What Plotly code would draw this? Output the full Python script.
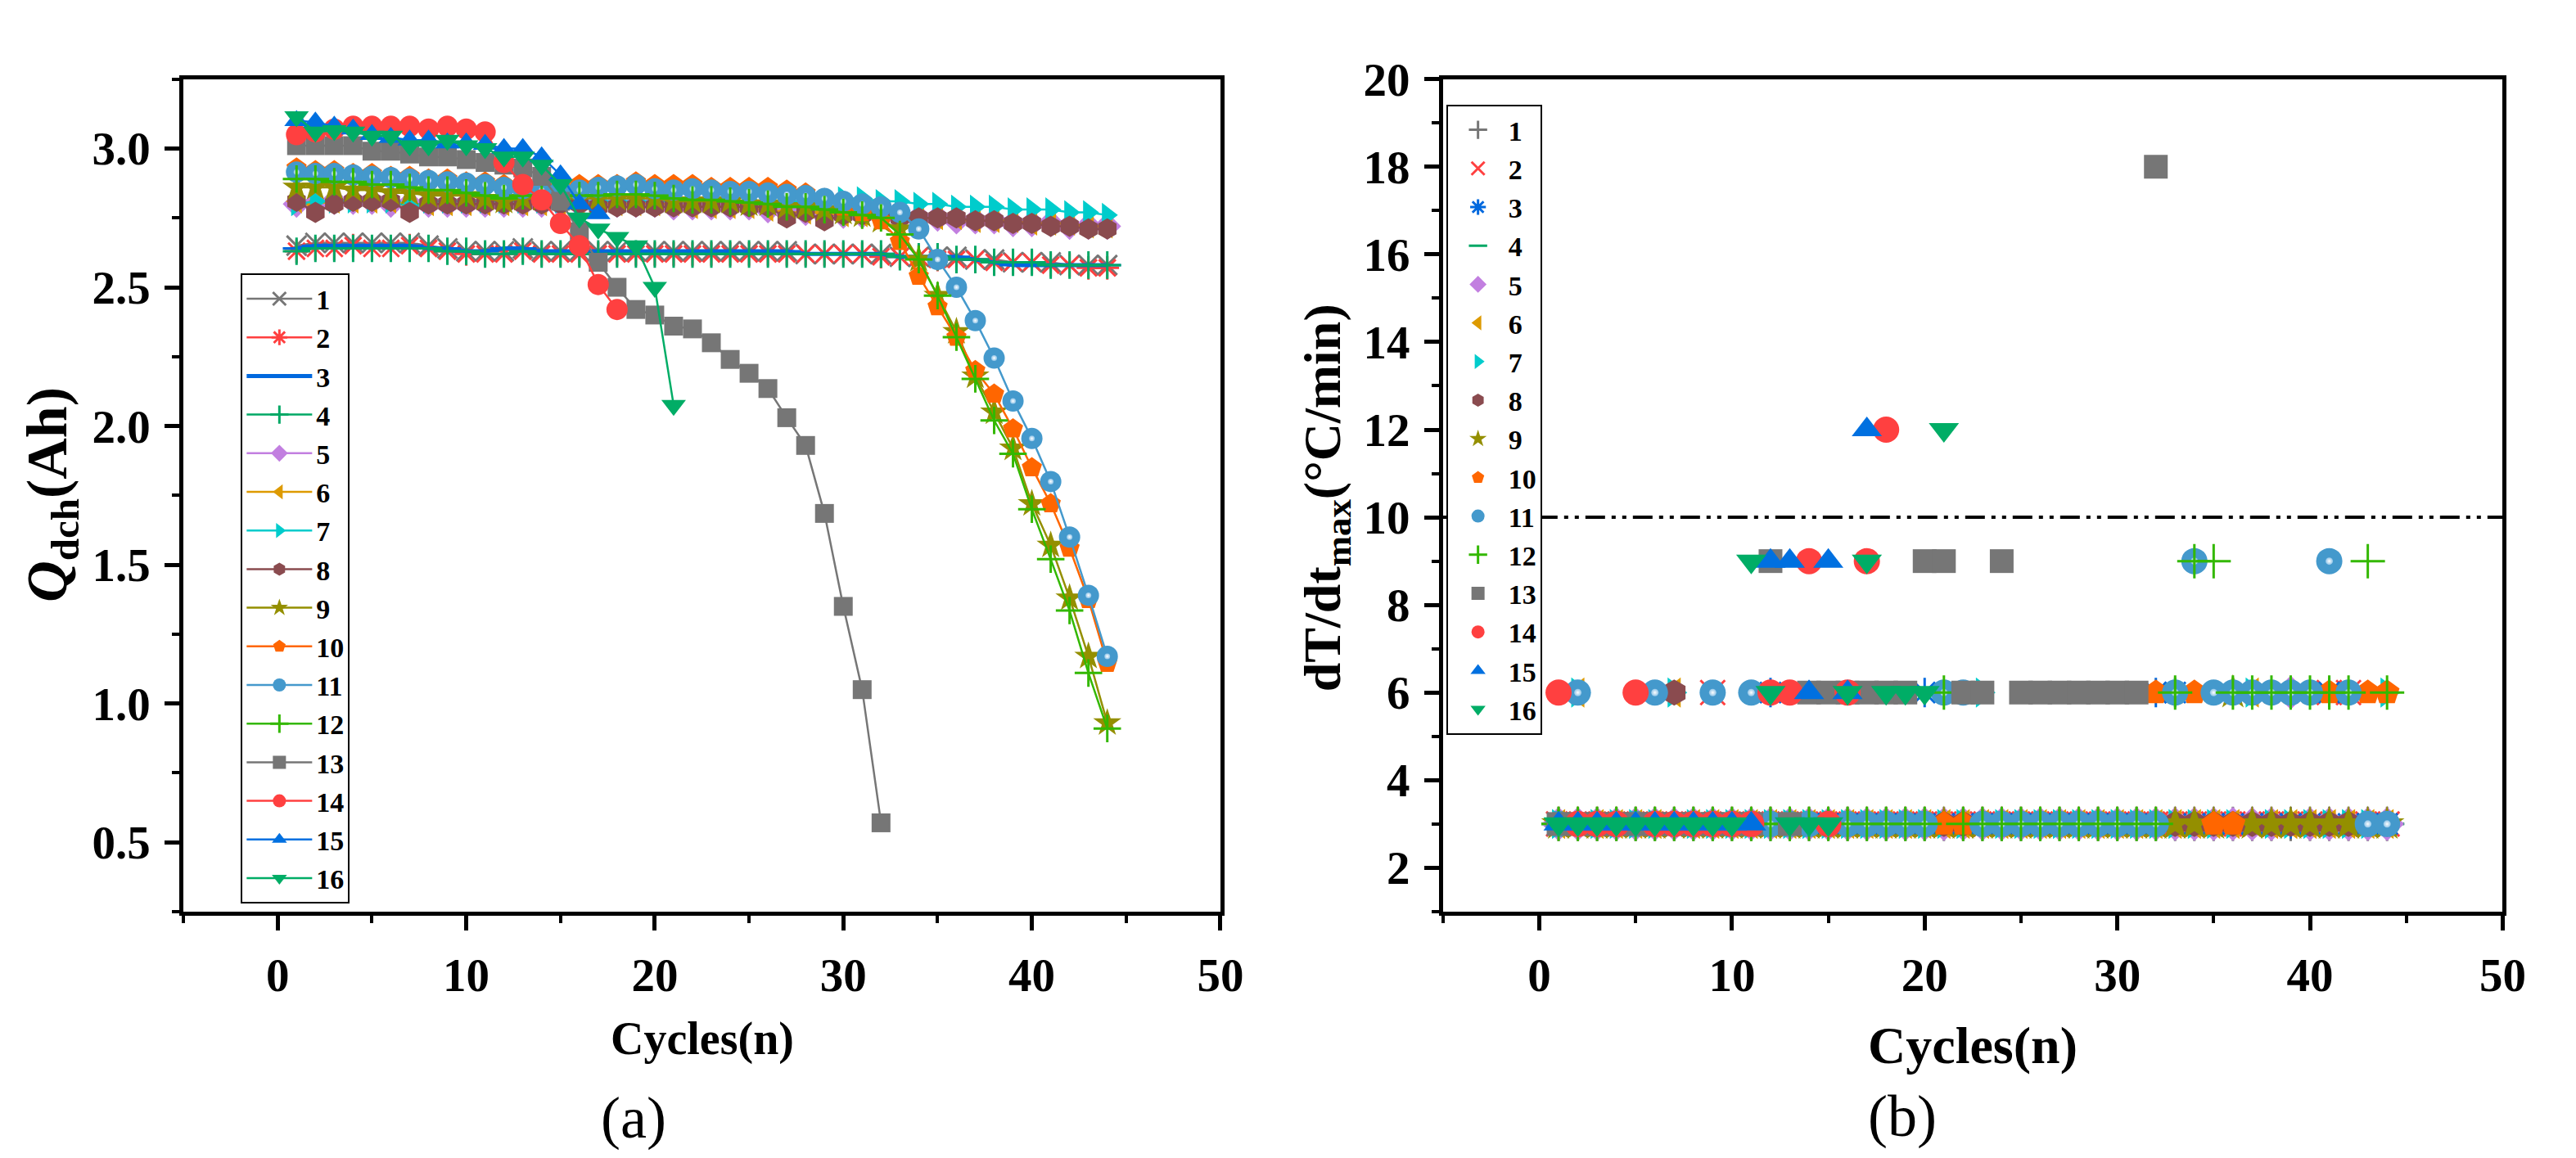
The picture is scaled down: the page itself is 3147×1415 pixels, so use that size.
import plotly.graph_objects as go

# ---------------- data : panel (a)  Q_dch (Ah) per cycle ----------------
q1 = [2.65, 2.66, 2.66, 2.66, 2.66, 2.66, 2.66, 2.65, 2.64, 2.63, 2.63, 2.63, 2.64, 2.63, 2.63, 2.63, 2.63, 2.63, 2.63, 2.63, 2.63, 2.63,
      2.63, 2.63, 2.63, 2.63, 2.63, 2.62, 2.62, 2.62, 2.62, 2.62, 2.61, 2.61, 2.61, 2.61, 2.60, 2.60, 2.59, 2.59, 2.59, 2.58, 2.58, 2.58]
q2 = [2.63, 2.64, 2.64, 2.65, 2.64, 2.64, 2.65, 2.64, 2.63, 2.62, 2.62, 2.62, 2.63, 2.62, 2.62, 2.62, 2.62, 2.62, 2.62, 2.62, 2.62, 2.62,
      2.62, 2.62, 2.62, 2.62, 2.62, 2.62, 2.62, 2.62, 2.62, 2.61, 2.61, 2.61, 2.60, 2.60, 2.60, 2.59, 2.59, 2.59, 2.58, 2.58, 2.57, 2.57]
q3 = [2.64, 2.65, 2.65, 2.65, 2.65, 2.65, 2.65, 2.64, 2.64, 2.63, 2.63, 2.64, 2.64, 2.63, 2.63, 2.63, 2.63, 2.63, 2.63, 2.63, 2.63, 2.63,
      2.63, 2.63, 2.63, 2.63, 2.63, 2.62, 2.62, 2.62, 2.62, 2.62, 2.61, 2.61, 2.61, 2.61, 2.60, 2.59, 2.58, 2.58, 2.58, 2.58, 2.58, 2.58]
q4 = [2.63, 2.64, 2.64, 2.64, 2.64, 2.64, 2.64, 2.64, 2.63, 2.63, 2.62, 2.62, 2.63, 2.62, 2.62, 2.62, 2.62, 2.62, 2.62, 2.62, 2.62, 2.62,
      2.62, 2.62, 2.62, 2.62, 2.62, 2.62, 2.62, 2.62, 2.62, 2.62, 2.61, 2.61, 2.61, 2.60, 2.60, 2.59, 2.59, 2.59, 2.58, 2.58, 2.58, 2.58]
q5 = [2.80, 2.80, 2.81, 2.81, 2.81, 2.80, 2.80, 2.80, 2.80, 2.80, 2.80, 2.80, 2.80, 2.80, 2.80, 2.80, 2.80, 2.80, 2.80, 2.80, 2.79, 2.79,
      2.79, 2.79, 2.79, 2.78, 2.77, 2.77, 2.76, 2.76, 2.76, 2.76, 2.75, 2.75, 2.75, 2.74, 2.74, 2.74, 2.73, 2.73, 2.73, 2.72, 2.72, 2.72]
q6 = [2.81, 2.80, 2.81, 2.81, 2.81, 2.81, 2.80, 2.80, 2.80, 2.80, 2.80, 2.80, 2.80, 2.80, 2.80, 2.80, 2.80, 2.80, 2.80, 2.80, 2.80, 2.79,
      2.79, 2.79, 2.79, 2.78, 2.77, 2.77, 2.77, 2.76, 2.76, 2.76, 2.76, 2.75, 2.75, 2.75, 2.74, 2.74, 2.74, 2.73, 2.73, 2.73, 2.72, 2.72]
q7 = [2.80, 2.81, 2.81, 2.81, 2.81, 2.81, 2.79, 2.81, 2.81, 2.81, 2.81, 2.81, 2.81, 2.81, 2.81, 2.81, 2.81, 2.81, 2.81, 2.81, 2.81, 2.81,
      2.81, 2.81, 2.81, 2.81, 2.81, 2.81, 2.81, 2.82, 2.82, 2.81, 2.81, 2.80, 2.80, 2.79, 2.79, 2.79, 2.78, 2.78, 2.78, 2.77, 2.77, 2.76]
q8 = [2.81, 2.77, 2.80, 2.81, 2.81, 2.81, 2.77, 2.80, 2.80, 2.80, 2.80, 2.80, 2.80, 2.80, 2.80, 2.80, 2.79, 2.79, 2.79, 2.79, 2.79, 2.79,
      2.79, 2.79, 2.79, 2.79, 2.75, 2.77, 2.74, 2.76, 2.76, 2.76, 2.75, 2.75, 2.75, 2.75, 2.74, 2.74, 2.73, 2.73, 2.72, 2.72, 2.71, 2.71]
q9 = [2.86, 2.86, 2.86, 2.85, 2.85, 2.84, 2.84, 2.83, 2.83, 2.83, 2.82, 2.81, 2.82, 2.82, 2.82, 2.82, 2.82, 2.82, 2.82, 2.82, 2.81, 2.81,
      2.81, 2.81, 2.80, 2.80, 2.79, 2.79, 2.78, 2.77, 2.76, 2.74, 2.71, 2.60, 2.47, 2.34, 2.18, 2.05, 1.92, 1.72, 1.57, 1.38, 1.17, 0.93]
q10 = [2.93, 2.92, 2.92, 2.91, 2.91, 2.90, 2.90, 2.89, 2.89, 2.88, 2.88, 2.87, 2.86, 2.86, 2.86, 2.87, 2.87, 2.87, 2.88, 2.87, 2.87, 2.87,
       2.86, 2.86, 2.86, 2.86, 2.85, 2.84, 2.82, 2.79, 2.77, 2.74, 2.665, 2.54, 2.43, 2.32, 2.20, 2.115, 1.99, 1.85, 1.72, 1.56, 1.375, 1.145]
q11 = [2.915, 2.91, 2.91, 2.905, 2.90, 2.895, 2.89, 2.885, 2.88, 2.875, 2.87, 2.86, 2.855, 2.85, 2.85, 2.85, 2.86, 2.865, 2.87, 2.855, 2.85,
       2.855, 2.85, 2.845, 2.845, 2.84, 2.835, 2.83, 2.82, 2.81, 2.80, 2.79, 2.77, 2.71, 2.60, 2.50, 2.38, 2.245, 2.09, 1.955, 1.80, 1.60, 1.39, 1.17]
q12 = [2.89, 2.89, 2.88, 2.88, 2.87, 2.87, 2.86, 2.85, 2.85, 2.84, 2.83, 2.82, 2.83, 2.83, 2.83, 2.83, 2.83, 2.835, 2.835, 2.83, 2.82, 2.815,
       2.815, 2.81, 2.805, 2.80, 2.79, 2.79, 2.78, 2.77, 2.76, 2.75, 2.69, 2.60, 2.47, 2.32, 2.17, 2.02, 1.90, 1.70, 1.52, 1.335, 1.11, 0.91]
q13 = [3.01, 3.01, 3.01, 3.01, 2.99, 2.99, 2.98, 2.97, 2.97, 2.96, 2.95, 2.94, 2.93, 2.90, 2.81, 2.70, 2.59, 2.50, 2.42, 2.40, 2.36, 2.35,
       2.30, 2.24, 2.19, 2.135, 2.03, 1.93, 1.685, 1.35, 1.05, 0.57]
q14 = [3.05, 3.06, 3.07, 3.08, 3.08, 3.08, 3.08, 3.07, 3.08, 3.07, 3.06, 2.95, 2.87, 2.815, 2.73, 2.65, 2.51, 2.42]
q15 = [3.10, 3.095, 3.08, 3.07, 3.05, 3.04, 3.03, 3.03, 3.02, 3.02, 3.015, 3.00, 3.00, 2.97, 2.905, 2.80, 2.765]
q16 = [3.115, 3.06, 3.065, 3.06, 3.045, 3.045, 3.01, 3.01, 3.03, 3.01, 3.00, 2.97, 2.97, 2.94, 2.87, 2.75, 2.71, 2.68, 2.65, 2.50, 2.075]

# ---------------- data : panel (b)  dT/dt max (degC/min) per cycle ----------------
b1 = [3, 3, 3, 3, 3, 3, 3, 3, 3, 3, 3, 3, 3, 3, 3, 3, 3, 3, 3, 3, 3, 3, 3, 3, 3, 3, 3, 3, 3, 3, 3, 3, 3, 3, 3, 3, 3, 3, 3, 3, 3, 3, 3, 3]
b2 = [3, 3, 3, 3, 3, 3, 3, 3, 6, 3, 3, 3, 3, 3, 3, 3, 3, 3, 3, 3, 3, 3, 3, 3, 3, 3, 3, 3, 3, 3, 3, 3, 3, 3, 3, 3, 3, 3, 3, 3, 6, 6, 3, 3]
b3 = [3, 3, 3, 3, 3, 3, 3, 3, 3, 3, 3, 6, 3, 3, 3, 3, 3, 3, 3, 6, 3, 3, 3, 3, 3, 3, 3, 3, 3, 3, 3, 6, 6, 3, 3, 3, 3, 3, 3, 3, 6, 3, 3, 3]
b4 = [3, 3, 3, 3, 3, 3, 3, 3, 3, 3, 3, 3, 3, 3, 3, 3, 3, 3, 3, 3, 3, 3, 3, 3, 3, 3, 3, 3, 3, 3, 3, 3, 3, 3, 3, 3, 3, 3, 3, 3, 3, 3, 3, 3]
b5 = [3, 3, 3, 3, 3, 3, 3, 3, 3, 3, 3, 3, 3, 3, 3, 3, 3, 3, 3, 3, 3, 3, 3, 3, 3, 3, 3, 3, 3, 3, 3, 3, 3, 3, 3, 3, 3, 3, 6, 3, 3, 3, 3, 3]
b6 = [3, 6, 3, 3, 3, 3, 6, 3, 3, 3, 3, 3, 3, 3, 3, 3, 3, 3, 3, 3, 3, 3, 3, 3, 3, 3, 3, 3, 3, 3, 3, 3, 3, 3, 3, 3, 6, 3, 3, 3, 3, 3, 3, 3]
b7 = [3, 6, 3, 3, 3, 3, 6, 3, 3, 3, 3, 3, 3, 3, 3, 3, 3, 3, 3, 3, 3, 3, 6, 3, 3, 3, 3, 3, 3, 3, 3, 3, 3, 3, 3, 3, 6, 3, 3, 3, 3, 3, 3, 6]
b8 = [3, 3, 3, 3, 3, 3, 6, 3, 3, 3, 3, 3, 3, 3, 3, 3, 3, 3, 3, 3, 3, 3, 3, 3, 3, 3, 3, 3, 3, 3, 3, 3, 3, 3, 3, 3, 3, 3, 3, 3, 3, 3, 3, 3]
b9 = [3, 3, 3, 3, 3, 3, 3, 3, 3, 3, 3, 3, 3, 3, 3, 3, 3, 3, 3, 3, 3, 3, 3, 3, 3, 3, 3, 3, 3, 3, 3, 3, 3, 3, 3, 6, 3, 3, 3, 3, 3, 3, 3, 3]
b10 = [3, 3, 3, 3, 3, 3, 3, 3, 3, 3, 3, 3, 3, 3, 3, 3, 3, 3, 3, 3, 3, 3, 3, 3, 3, 3, 3, 3, 3, 3, 3, 6, 6, 6, 3, 3, 6, 6, 6, 6, 6, 6, 6, 6]
b11 = [3, 6, 3, 3, 3, 6, 3, 3, 6, 3, 6, 3, 3, 3, 3, 3, 3, 3, 3, 3, 6, 6, 3, 3, 3, 3, 3, 3, 3, 3, 3, 3, 6, 9, 6, 6, 6, 6, 6, 6, 9, 6, 3, 3]
b12 = [3, 3, 3, 3, 3, 3, 3, 3, 3, 3, 3, 3, 3, 3, 3, 3, 3, 3, 3, 3, 6, 3, 3, 3, 3, 3, 3, 3, 3, 3, 3, 3, 6, 9, 9, 6, 6, 6, 6, 6, 6, 6, 9, 6]
b13 = [3, 3, 3, 3, 3, 3, 3, 3, 3, 3, 3, 9, 3, 6, 6, 6, 6, 6, 6, 9, 9, 6, 6, 9, 6, 6, 6, 6, 6, 6, 6, 18]
b14 = [6, 3, 3, 3, 6, 3, 3, 3, 3, 3, 3, 6, 6, 9, 3, 6, 9, 12]
b15 = [3, 3, 3, 3, 3, 3, 3, 3, 3, 3, 3, 9, 9, 6, 9, 6, 12]
b16 = [3, 3, 3, 3, 3, 3, 3, 3, 3, 3, 9, 6, 3, 3, 3, 6, 9, 6, 6, 6, 12]

threshold_x = [-5, 50]
threshold_y = [10, 10]

cycles = list(range(1, 45))
names = ["1", "2", "3", "4", "5", "6", "7", "8", "9", "10", "11", "12", "13", "14", "15", "16"]
q_series = [q1, q2, q3, q4, q5, q6, q7, q8, q9, q10, q11, q12, q13, q14, q15, q16]
b_series = [b1, b2, b3, b4, b5, b6, b7, b8, b9, b10, b11, b12, b13, b14, b15, b16]

# ---------------- styles ----------------
colors = ["#767676", "#FF4040", "#0068DE", "#00A865", "#C27FE0", "#DD9A00", "#00CCCC", "#8A4B4F",
          "#948F00", "#FF6600", "#4499CC", "#33B800", "#767676", "#FF4040", "#0070E0", "#00AD66"]
sym_a = ["x-thin", "asterisk", "line-ew", "cross-thin", "diamond", "triangle-left", "triangle-right", "hexagon",
         "star", "pentagon", "circle", "cross-thin", "square", "circle", "triangle-up", "triangle-down"]
sym_b = ["cross-thin", "x-thin", "asterisk", "line-ew", "diamond", "triangle-left", "triangle-right", "hexagon",
         "star", "pentagon", "circle", "cross-thin", "square", "circle", "triangle-up", "triangle-down"]
thin = {"x-thin", "asterisk", "line-ew", "cross-thin"}

FONT = '"Liberation Serif", "Times New Roman", Times, serif'
HILITE = "#8FC4E8"

fig = go.Figure()

# panel (a)
for i in range(16):
    y = q_series[i]
    sz = 24 if sym_a[i] in thin else 26
    if sym_a[i] == "square":
        sz = 23
    fig.add_trace(go.Scatter(
        x=cycles[:len(y)], y=y, name=names[i], mode="lines+markers",
        xaxis="x", yaxis="y", legend="legend",
        line=dict(color=colors[i], width=5 if i == 2 else 2.5),
        marker=dict(symbol=sym_a[i], size=sz, color=colors[i],
                    line=dict(color=colors[i], width=3 if sym_a[i] in thin else 0)),
    ))
    if i == 10:
        fig.add_trace(go.Scatter(
            x=cycles[:len(y)], y=y, mode="markers", showlegend=False, hoverinfo="skip",
            xaxis="x", yaxis="y",
            marker=dict(symbol="circle", size=7, color=HILITE,
                        gradient=dict(type="radial", color="#FFFFFF"), line=dict(width=0)),
        ))

# panel (b)
fig.add_trace(go.Scatter(
    x=threshold_x, y=threshold_y, mode="lines", showlegend=False, hoverinfo="skip",
    xaxis="x2", yaxis="y2",
    line=dict(color="black", width=4, dash="24px,8px,5px,8px,5px,8px"),
))
for i in range(16):
    y = b_series[i]
    sz = 30 if sym_b[i] in thin else 32
    if sym_b[i] == "square":
        sz = 29
    fig.add_trace(go.Scatter(
        x=cycles[:len(y)], y=y, name=names[i], mode="markers",
        xaxis="x2", yaxis="y2", legend="legend2",
        marker=dict(symbol=sym_b[i], size=sz, color=colors[i],
                    line=dict(color=colors[i], width=3 if sym_b[i] in thin else 0)),
    ))
    if i == 10:
        fig.add_trace(go.Scatter(
            x=cycles[:len(y)], y=y, mode="markers", showlegend=False, hoverinfo="skip",
            xaxis="x2", yaxis="y2",
            marker=dict(symbol="circle", size=9, color=HILITE,
                        gradient=dict(type="radial", color="#FFFFFF"), line=dict(width=0)),
        ))

YDOM = [0.2233, 0.9583]


def axis(domain, rng, dtick, minor_dtick, size, anchor, fmt=None):
    d = dict(domain=domain, range=rng, dtick=dtick, tick0=0, anchor=anchor,
             ticks="outside", ticklen=18, tickwidth=5, tickcolor="black",
             showline=True, linewidth=5, linecolor="black", mirror=True,
             showgrid=False, zeroline=False, ticklabelstandoff=6,
             tickfont=dict(family=FONT, size=size, color="black", weight="bold"),
             minor=dict(dtick=minor_dtick, ticks="outside", ticklen=9, tickwidth=4, tickcolor="black"))
    if fmt:
        d["tickformat"] = fmt
    return d


def legend_cfg(x, y, itemwidth):
    return dict(x=x, y=y, xanchor="left", yanchor="top", bgcolor="white", bordercolor="black", borderwidth=2,
                font=dict(family=FONT, size=34, color="black", weight="bold"),
                itemwidth=itemwidth, tracegroupgap=0, traceorder="normal")


fig.update_layout(
    width=3147, height=1415, autosize=False,
    margin=dict(l=0, r=0, t=0, b=0),
    paper_bgcolor="white", plot_bgcolor="white",
    xaxis=axis([0.0693, 0.4756], [-5, 50], 10, 5, 57, "y"),
    yaxis=axis(YDOM, [0.25, 3.25], 0.5, 0.25, 57, "x", ".1f"),
    xaxis2=axis([0.5628, 0.978], [-5, 50], 10, 5, 57, "y2"),
    yaxis2=axis(YDOM, [1, 20], 2, 1, 57, "x2"),
    legend=legend_cfg(289 / 3147, 1 - 302 / 1415, 80),
    legend2=legend_cfg(1775 / 3147, 1 - 91 / 1415, 64),
    annotations=[
        dict(text="Cycles(n)", x=0.2725, y=1 - 1258 / 1415, xref="paper", yref="paper", showarrow=False,
             xanchor="center", yanchor="middle", font=dict(family=FONT, size=56, color="black", weight="bold")),
        dict(text="Cycles(n)", x=0.7704, y=1 - 1266 / 1415, xref="paper", yref="paper", showarrow=False,
             xanchor="center", yanchor="middle", font=dict(family=FONT, size=64, color="black", weight="bold")),
        dict(text="(a)", x=773 / 3147, y=1 - 1357 / 1415, xref="paper", yref="paper", showarrow=False,
             xanchor="center", yanchor="middle", font=dict(family=FONT, size=72, color="black")),
        dict(text="(b)", x=2338 / 3147, y=1 - 1355 / 1415, xref="paper", yref="paper", showarrow=False,
             xanchor="center", yanchor="middle", font=dict(family=FONT, size=72, color="black")),
        dict(text="<i>Q</i><sub>dch</sub>(Ah)", x=56 / 3147, y=1 - 578 / 1415, xref="paper", yref="paper",
             showarrow=False, textangle=-90, xanchor="center", yanchor="middle",
             font=dict(family=FONT, size=70, color="black", weight="bold")),
        dict(text="dT/dt<sub>max</sub>(°C/min)", x=1627 / 3147, y=1 - 582 / 1415, xref="paper", yref="paper",
             showarrow=False, textangle=-90, xanchor="center", yanchor="middle",
             font=dict(family=FONT, size=64, color="black", weight="bold")),
    ],
)

fig.write_html("out.html")
